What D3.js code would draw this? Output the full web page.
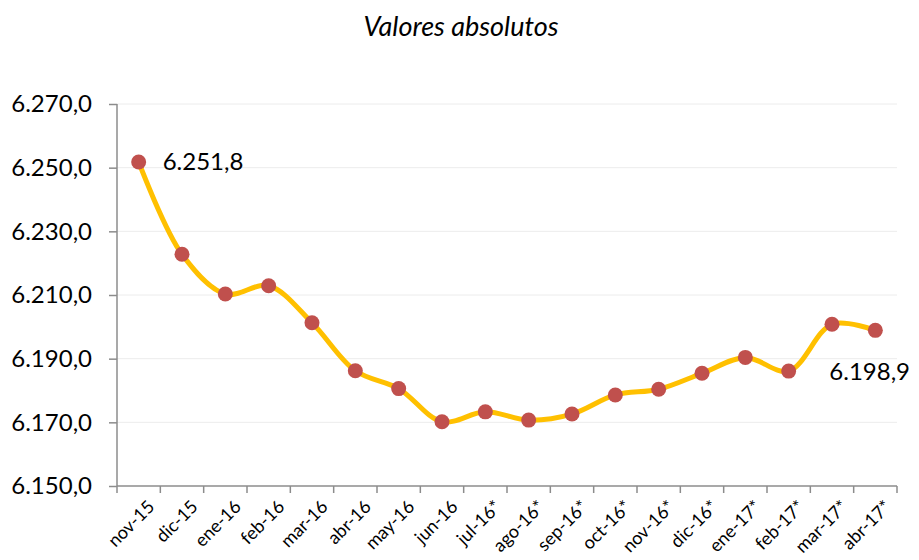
<!DOCTYPE html>
<html>
<head>
<meta charset="utf-8">
<script src="https://cdn.jsdelivr.net/npm/d3@7"></script>
<style>
  body { margin: 0; background: #fff; }
  text { font-family: Lato, "Open Sans", sans-serif; fill: #000; }
</style>
</head>
<body>
<svg width="919" height="560"></svg>
<script>
const months = ["nov-15", "dic-15", "ene-16", "feb-16", "mar-16", "abr-16", "may-16", "jun-16",
  "jul-16*", "ago-16*", "sep-16*", "oct-16*", "nov-16*", "dic-16*", "ene-17*", "feb-17*", "mar-17*", "abr-17*"]
const values = [6251.8, 6222.8, 6210.3, 6212.9, 6201.3, 6186.2, 6180.6, 6170.2,
  6173.3, 6170.7, 6172.6, 6178.6, 6180.4, 6185.4, 6190.4, 6186.1, 6200.8, 6198.9]
const yTicks = [6150, 6170, 6190, 6210, 6230, 6250, 6270]
// which points carry a value label
const labelled = [0, 17]

let svg = d3.select("svg")
let margin = {top: 104, left: 117, right: 22, bottom: 74}
let width = 919 - margin.left - margin.right
let height = 560 - margin.top - margin.bottom

let x = d3.scaleBand().domain(months).range([0, width])
let y = d3.scaleLinear().domain([6150, 6270]).range([height, 0])

let fmt = v => d3.format(",.1f")(v).replace(/,/g, "#").replace(".", ",").replace(/#/g, ".")

svg.append("text")
  .attr("x", 461).attr("y", 36)
  .attr("text-anchor", "middle")
  .style("font-style", "italic")
  .style("font-size", "27px")
  .text("Valores absolutos")

let g = svg.append("g")
  .attr("transform", "translate(" + margin.left + "," + margin.top + ")")

// gridlines
g.selectAll(".grid")
  .data(yTicks.slice(1))
  .enter().append("line")
  .attr("x1", 0).attr("x2", width)
  .attr("y1", d => y(d)).attr("y2", d => y(d))
  .attr("stroke", "#ececec").attr("stroke-width", 1)

// y axis
let yAxis = g.append("g")
  .call(d3.axisLeft(y).tickValues(yTicks).tickSize(8).tickPadding(17).tickFormat(fmt))
yAxis.selectAll("line, path").attr("stroke", "#8c8c8c").attr("stroke-width", 1.5)
yAxis.select(".domain").attr("d", "M0," + y(6270) + "V" + height)
yAxis.selectAll("text").style("font-size", "24px").style("font-family", "Lato, sans-serif")

// x axis
let xAxis = g.append("g").attr("transform", "translate(0," + height + ")")
xAxis.append("line")
  .attr("x1", 0).attr("x2", width)
  .attr("stroke", "#8c8c8c").attr("stroke-width", 1.5)
xAxis.selectAll(".tick")
  .data(months.map(m => x(m)).concat([width]))
  .enter().append("line")
  .attr("x1", d => d).attr("x2", d => d)
  .attr("y1", 0).attr("y2", 7)
  .attr("stroke", "#8c8c8c").attr("stroke-width", 1.5)
xAxis.selectAll(".lbl")
  .data(months)
  .enter().append("text")
  .attr("transform", d => "translate(" + (x(d) + x.bandwidth() / 2 + 8) + ",13) rotate(-45)")
  .attr("text-anchor", "end")
  .attr("dy", "0.7em")
  .style("font-size", "18px")
  .text(d => d)

// line
let line = d3.line()
  .x((d, i) => x(months[i]) + x.bandwidth() / 2)
  .y(d => y(d))
  .curve(d3.curveCatmullRom.alpha(0.5))

g.append("path")
  .datum(values)
  .attr("d", line)
  .attr("fill", "none")
  .attr("stroke", "#FFC000")
  .attr("stroke-width", 5)

g.selectAll(".dot")
  .data(values)
  .enter().append("circle")
  .attr("cx", (d, i) => x(months[i]) + x.bandwidth() / 2)
  .attr("cy", d => y(d))
  .attr("r", 7.5)
  .attr("fill", "#C0504D")

g.selectAll(".val")
  .data(labelled)
  .enter().append("text")
  .attr("x", i => x(months[i]) + x.bandwidth() / 2 + (i === 0 ? 24 : -46))
  .attr("y", i => y(values[i]) + (i === 0 ? 0 : 41))
  .attr("dy", "0.35em")
  .style("font-size", "24px")
  .text(i => fmt(values[i]))
</script>
</body>
</html>
